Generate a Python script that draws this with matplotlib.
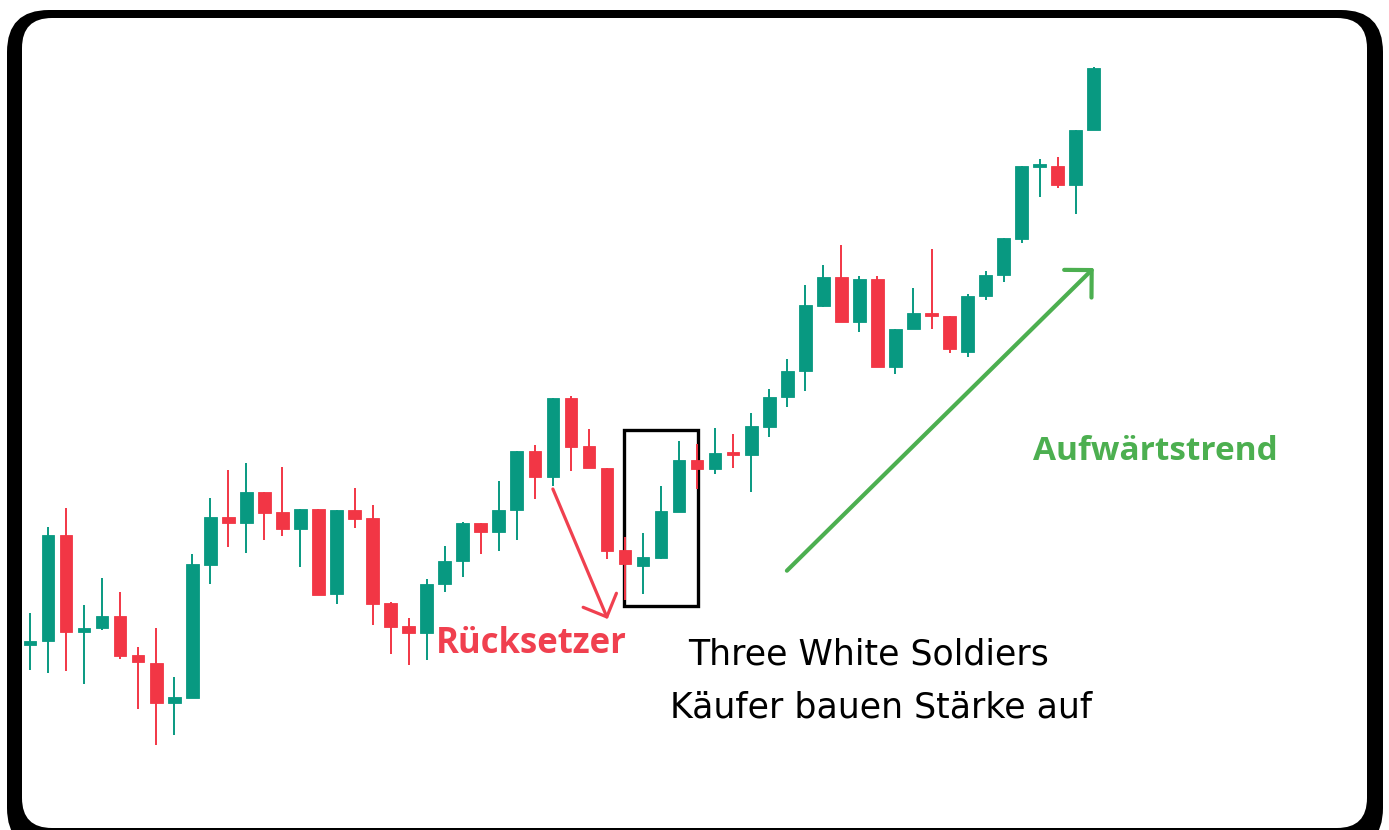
import numpy as np
import matplotlib
matplotlib.use("Agg")
import matplotlib.pyplot as plt
from matplotlib.patches import FancyBboxPatch, Rectangle, FancyArrowPatch

# ---- OHLC data (price points) ----
open_ = [185.5, 189, 295, 198, 202, 214, 175, 167, 127, 132,
         265, 313, 307, 338, 318, 301, 321, 236, 320, 312,
         227, 204, 197, 246, 269, 307, 298, 320, 379, 353,
         432, 384, 362, 280, 264, 272, 318, 370, 361, 377,
         375, 403, 433, 459, 524, 553, 508, 551, 463, 501,
         517, 514, 478, 534, 555, 591, 663, 664, 645, 700]
high = [217, 303, 322, 225, 252, 238, 183, 202, 153, 276,
        332, 360, 367, 338, 363, 321, 321, 320, 342, 325,
        228, 212, 251, 284, 308, 307, 349, 379, 385, 432,
        434, 401, 362, 293, 297, 344, 389, 386, 402, 396,
        417, 441, 471, 545, 565, 585, 554, 554, 501, 542,
        581, 514, 536, 559, 592, 664, 671, 673, 700, 763]
low = [160, 157, 159, 146, 200, 171, 121, 85, 95, 132,
       246, 283, 277, 290, 294, 263, 235, 226, 302, 205,
       176, 165, 170, 238, 253, 276, 279, 290, 331, 344,
       359, 362, 271, 230, 236, 271, 318, 341, 356, 362,
       338, 393, 423, 439, 523, 508, 498, 463, 456, 501,
       501, 477, 473, 530, 548, 587, 633, 642, 616, 700]
close = [189.5, 295, 198, 202, 214, 174, 168, 127, 133, 266,
         313, 307, 338, 317, 301, 321, 235, 320, 311, 226,
         203, 197, 246, 269, 307, 298, 320, 379, 353, 432,
         383, 362, 279, 266, 273, 319, 370, 361, 377, 375,
         404, 433, 459, 525, 553, 508, 551, 463, 501, 517,
         514, 481, 534, 555, 592, 664, 664, 645, 700, 762]

UP = "#089981"
DOWN = "#F23645"
ARROW_RED = "#F0404F"
ARROW_GREEN = "#4CAF50"

W, H = 1389, 830
fig = plt.figure(figsize=(W / 100, H / 100), dpi=100)
fig.patch.set_facecolor("white")

# rounded black frame, drawn in pixel units
bg = fig.add_axes([0, 0, 1, 1])
bg.set_xlim(0, W)
bg.set_ylim(H, 0)
bg.axis("off")
bg.add_patch(FancyBboxPatch((7, 10), 1376, 840, boxstyle="round,pad=0,rounding_size=42",
                            fc="black", ec="none"))
bg.add_patch(FancyBboxPatch((22, 18), 1345, 810, boxstyle="round,pad=0,rounding_size=30",
                            fc="white", ec="none"))

# chart axes on top
ax = fig.add_axes([0, 0, 1, 1])
ax.patch.set_alpha(0)
step = 18.03
ax.set_xlim(-30 / step, (W - 30) / step)
ax.set_ylim(0, H)
ax.axis("off")

o = np.array(open_, float)
c = np.array(close, float)
hi = np.array(high, float)
lo = np.array(low, float)
x = np.arange(len(o))
up = c >= o
cols = np.where(up, UP, DOWN)

ax.vlines(x, lo, hi, colors=cols, lw=1.4, zorder=3)
body_lo = np.minimum(o, c)
body_h = np.maximum(np.abs(c - o), 2.5)
ax.bar(x, body_h, bottom=body_lo, width=0.7, color=cols, edgecolor=cols,
       lw=0.6, zorder=4)

# pattern box around the three soldiers
ax.add_patch(Rectangle((32.94, 224), 37.05 - 32.94, 176, fill=False,
                       ec="black", lw=2.4, zorder=2))

# pullback arrow
ax.add_patch(FancyArrowPatch((29.0, 341), (32.04, 211),
                             arrowstyle="->,head_length=13,head_width=13",
                             mutation_scale=1, color=ARROW_RED, lw=2.3,
                             capstyle="round", joinstyle="round", zorder=5,
                             shrinkA=0, shrinkB=0))
# uptrend arrow
ax.add_patch(FancyArrowPatch((41.98, 259.3), (59.0, 562),
                             arrowstyle="->,head_length=14,head_width=14",
                             mutation_scale=1, color=ARROW_GREEN, lw=3.0,
                             capstyle="round", joinstyle="round", zorder=5,
                             shrinkA=0, shrinkB=0))

ax.text(22.5, 177, "Rücksetzer", color=ARROW_RED, fontsize=25, fontweight="bold",
        family="Open Sans", ha="left", va="baseline")
ax.text(55.63, 370, "Aufwärtstrend", color=ARROW_GREEN, fontsize=24, fontweight="bold",
        family="Open Sans", ha="left", va="baseline")
ax.text(36.5, 166, "Three White Soldiers", color="black", fontsize=25,
        family="DejaVu Sans", ha="left", va="baseline")
ax.text(35.5, 113, "Käufer bauen Stärke auf", color="black", fontsize=25,
        family="DejaVu Sans", ha="left", va="baseline")

fig.savefig("out.png", dpi=100)
